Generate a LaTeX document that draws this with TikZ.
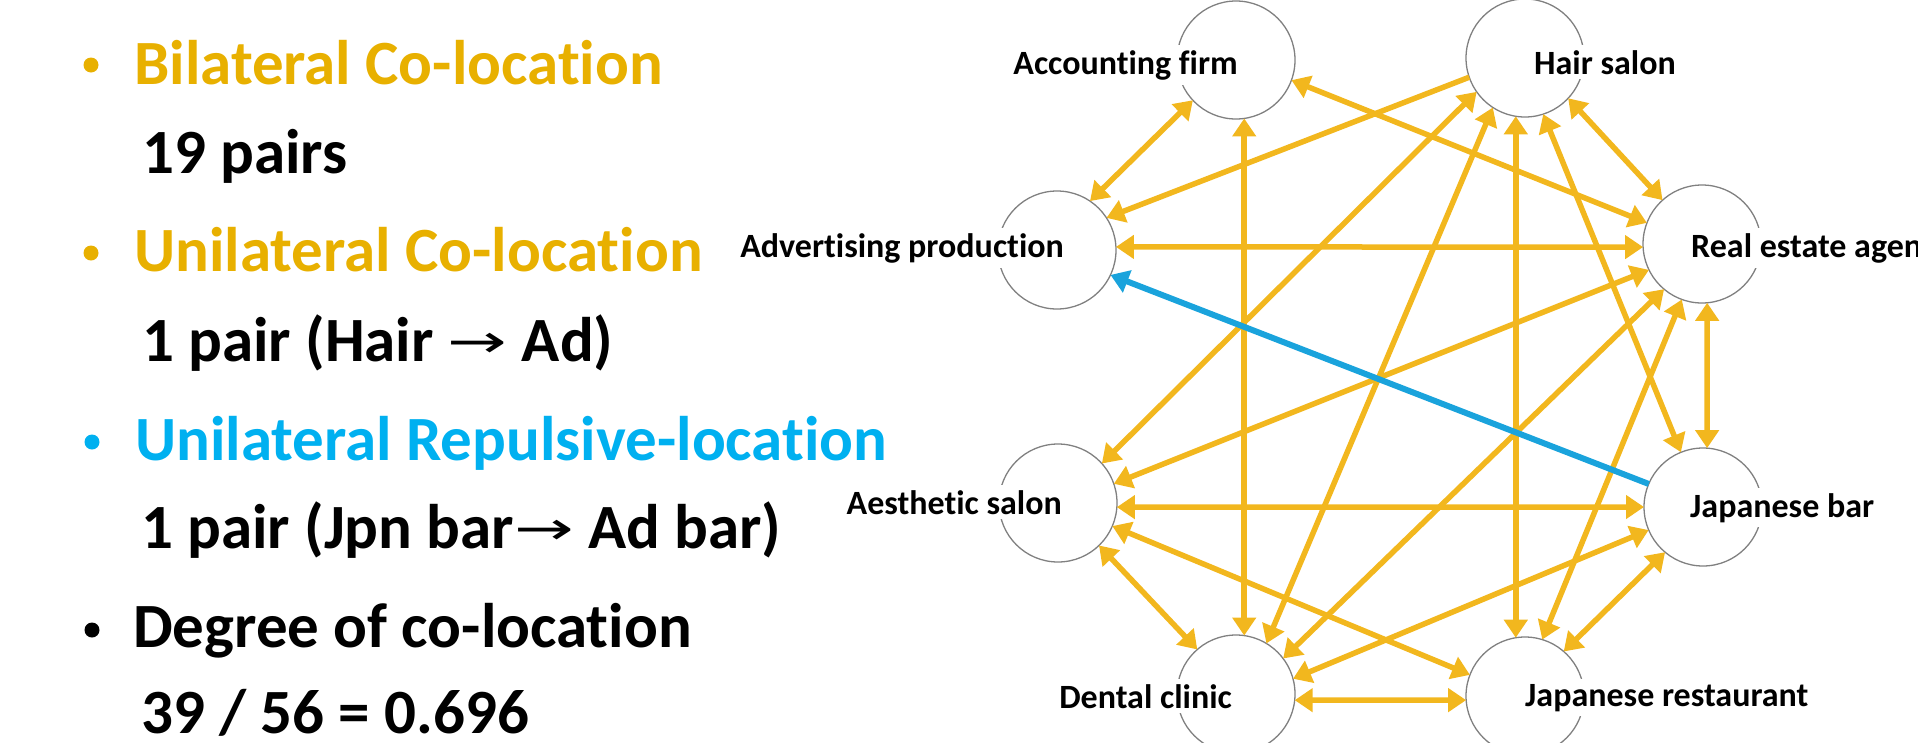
\documentclass[tikz,border=0pt]{standalone}
\usepackage{fontspec}
\usepackage{graphicx}
\setmainfont{Carlito}[Ligatures={NoCommon}]
\newfontfamily\arrowfont{DejaVu Sans}
\usetikzlibrary{arrows.meta}
\definecolor{lineyellow}{RGB}{242,183,30}
\definecolor{textyellow}{RGB}{232,176,0}
\definecolor{lineblue}{RGB}{26,163,220}
\definecolor{textblue}{RGB}{0,176,240}
\definecolor{ringgray}{RGB}{128,128,128}
\newcommand{\smallarrow}{{\arrowfont\mdseries\fontsize{46}{50}\selectfont\raisebox{4pt}{\scalebox{1.55}[1]{→}}}}
\begin{document}
\begin{tikzpicture}[x=1pt,y=-1pt,
  place/.style={circle, draw=ringgray, line width=1.3pt, minimum size=118pt, inner sep=0pt, outer sep=0pt},
  lbl/.style={font=\fontsize{34}{40}\selectfont\bfseries, fill=white, inner xsep=1pt, inner ysep=5pt},
  head/.style={font=\fontsize{63}{70}\selectfont\bfseries, inner sep=0pt, anchor=base west},
  dot/.style={circle, inner sep=0pt, minimum size=15pt},
  tip/.tip={Triangle[length=18pt,width=23pt]},
  both/.style={draw=lineyellow, line width=5.5pt, tip-tip},
  one/.style={draw=lineyellow, line width=5.5pt, -tip},
  repel/.style={draw=lineblue, line width=6pt, -tip},
]
\useasboundingbox (0,0) rectangle (1918,742);
\clip (0,0) rectangle (1918,742);

% summary list
\node[dot, fill=textyellow] (b1) at (91,65) {};
\node[head, text=textyellow] (t1) at (134,84) {Bilateral Co-location};
\node[head] (t2) at (142,173) {19 pairs};
\node[dot, fill=textyellow] (b2) at (91,253) {};
\node[head, text=textyellow] (t3) at (134,271) {Unilateral Co-location};
\node[head] (t4) at (142,361) {1 pair (Hair \smallarrow{} Ad)};
\node[dot, fill=textblue] (b3) at (92,442) {};
\node[head, text=textblue] (t5) at (135,460) {Unilateral Repulsive-location};
\node[head] (t6) at (141,548) {1 pair (Jpn bar\smallarrow{} Ad bar)};
\node[dot, fill=black] (b4) at (92,630) {};
\node[head] (t7) at (133,647) {Degree of co-location};
\node[head] (t8) at (141,733) {39 / 56 = 0.696};

% industry circles
\node[place] (acc)  at (1236,60)  {};
\node[place] (hair) at (1525,58)  {};
\node[place] (real) at (1702,244) {};
\node[place] (bar)  at (1703,507) {};
\node[place] (jres) at (1525,696) {};
\node[place] (den)  at (1236,694) {};
\node[place] (aes)  at (1058,503) {};
\node[place] (adv)  at (1057,250) {};

% industry names
\node[lbl, anchor=base east] (accL)  at (1239,74)  {Accounting firm};
\node[lbl, anchor=base west] (hairL) at (1533,74)  {Hair salon};
\node[lbl, anchor=base east] (advL)  at (1065,257) {Advertising production};
\node[lbl, anchor=base west] (realL) at (1690,257) {Real estate agent};
\node[lbl, anchor=base east] (aesL)  at (1063,514) {Aesthetic salon};
\node[lbl, anchor=base west] (barL)  at (1689,517) {Japanese bar};
\node[lbl, anchor=base east] (denL)  at (1233,708) {Dental clinic};
\node[lbl, anchor=base west] (jresL) at (1524,706) {Japanese restaurant};

% bilateral co-location
\draw[both] (acc.223)  -- (adv.56);
\draw[both] (acc.-20)  -- (real.159);
\draw[both] (acc.-82)  -- (den.82);
\draw[both] (hair.-43) -- (real.132);
\draw[both] (adv.3)    -- (real.183);
\draw[both] (hair.-72) -- (bar.112);
\draw[both] (hair.-99) -- (jres.99);
\draw[both] (hair.237) -- (den.59);
\draw[both] (hair.215) -- (aes.42);
\draw[both] (real.206) -- (aes.19);
\draw[both] (real.230) -- (den.37);
\draw[both] (real.-85) -- (bar.86);
\draw[both] (real.250) -- (jres.73);
\draw[both] (aes.-4)   -- (bar.180);
\draw[both] (aes.-23)  -- (jres.159);
\draw[both] (aes.-46)  -- (den.131);
\draw[both] (bar.203)  -- (den.15);
\draw[both] (bar.230)  -- (jres.49);
\draw[both] (den.-6)   -- (jres.184);

% unilateral co-location
\draw[one] (hair.199) -- (adv.33);

% unilateral repulsive location
\draw[repel] (bar.157) -- (adv.-25);
\end{tikzpicture}
\end{document}
